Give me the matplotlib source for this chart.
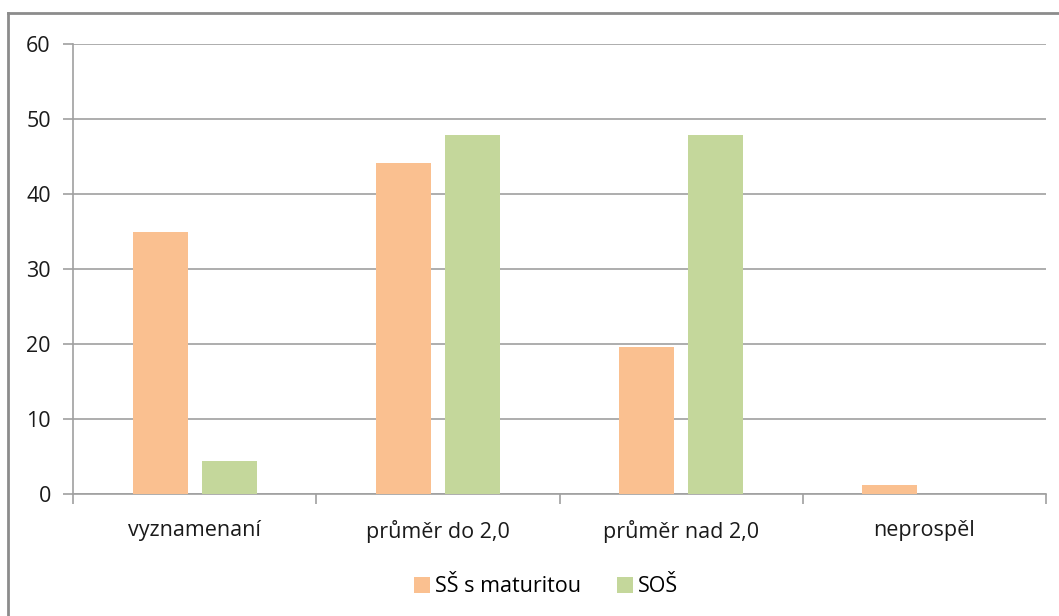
import matplotlib
matplotlib.use("Agg")
import matplotlib.pyplot as plt
from matplotlib.lines import Line2D
import numpy as np

categories = ["vyznamenaní", "průměr do 2,0", "průměr nad 2,0", "neprospěl"]
series_names = ["SŠ s maturitou", "SOŠ"]
ss_maturita = [35.0, 44.2, 19.6, 1.2]
sos = [4.4, 47.9, 47.9, 0.0]
colors = ["#FAC090", "#C4D79B"]
yticks = [0, 10, 20, 30, 40, 50, 60]

plt.rcParams['font.family'] = ['Open Sans', 'DejaVu Sans']

W, H = 1059, 616
fig = plt.figure(figsize=(W / 100, H / 100), dpi=100)
L, R, T, B = 73, 1046, 44, 494
ax = fig.add_axes([L / W, 1 - B / H, (R - L) / W, (B - T) / H])

x = np.arange(len(categories))
bw = 0.226
off = 0.142
ax.bar(x - off, ss_maturita, width=bw, color=colors[0], label=series_names[0], zorder=3)
ax.bar(x + off, sos, width=bw, color=colors[1], label=series_names[1], zorder=3)

FS = 15.5
ax.set_xlim(-0.5, len(categories) - 0.5)
ax.set_ylim(0, 60)
ax.set_yticks(yticks)
ax.set_yticklabels([str(v) for v in yticks], fontsize=FS, color="#1A1A1A")
ax.yaxis.grid(True, color="#A0A0A0", linewidth=1.2, zorder=0)
ax.set_axisbelow(True)

ax.set_xticks(x)
ax.set_xticklabels(categories, fontsize=FS, color="#1A1A1A")
ax.tick_params(axis='x', length=0, pad=19)
ax.tick_params(axis='y', length=7, color="#A0A0A0", width=1.2, pad=9, direction='out')
# category boundary ticks
ax.set_xticks(np.arange(-0.5, len(categories), 1.0), minor=True)
ax.tick_params(axis='x', which='minor', length=7, color="#A0A0A0", width=1.2, direction='out')

for s in ["top", "right"]:
    ax.spines[s].set_visible(False)
for s in ["left", "bottom"]:
    ax.spines[s].set_color("#A0A0A0")
    ax.spines[s].set_linewidth(1.2)

leg = fig.legend(loc="center", bbox_to_anchor=(546 / W, 1 - 587 / H), ncol=2, frameon=False,
                 fontsize=FS, handlelength=0.75, handleheight=0.75, handletextpad=0.2,
                 columnspacing=1.7)

# outer chart border (top and left)
fig.add_artist(Line2D([8 / W, 1.0], [1 - 13 / H, 1 - 13 / H], transform=fig.transFigure,
                      color="#8C8C8C", linewidth=2))
fig.add_artist(Line2D([8 / W, 8 / W], [0, 1 - 13 / H], transform=fig.transFigure,
                      color="#8C8C8C", linewidth=2))

fig.savefig("out.png", dpi=100)
